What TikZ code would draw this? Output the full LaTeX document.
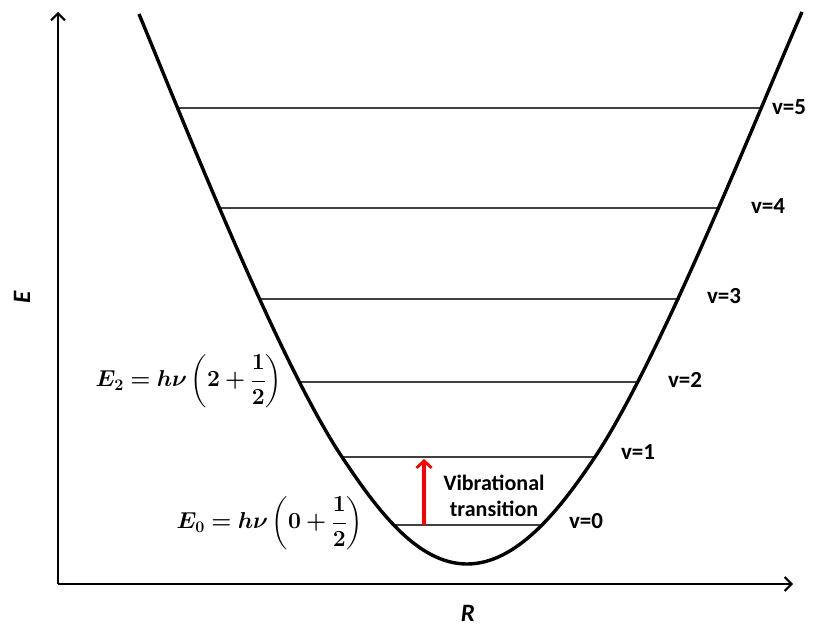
\RequirePackage{fix-cm}
\documentclass[tikz,border=0pt]{standalone}
\usepackage{amsmath}
\usepackage{bm}
\usepackage{fontspec}
\setmainfont{Carlito}
\usetikzlibrary{arrows.meta}
\begin{document}
\begin{tikzpicture}[x=1pt,y=-1pt,
  axis/.style={line width=2.2pt, -{Straight Barb[length=7pt,width=14pt,line width=2pt]}},
  well/.style={line width=3.4pt, line join=round},
  lvl/.style={draw=black!75, line width=1.4pt},
  lab/.style={font=\fontsize{23}{27}\selectfont\bfseries, inner sep=0pt},
  eqn/.style={font=\fontsize{21.5}{26}\selectfont, inner sep=0pt},
  axlab/.style={font=\fontsize{25}{29}\selectfont\bfseries\itshape, inner sep=0pt}]
\useasboundingbox (0,0) rectangle (820,626);
% axes
\coordinate (O) at (58,584);
\coordinate (Ytop) at (58,12);
\coordinate (Xend) at (793,584);
\draw[axis] (O) -- (Ytop);
\draw[axis] (O) -- (Xend);
\node[axlab, rotate=90] (Elab) at (22,297) {E};
\node[axlab] (Rlab) at (468,613) {R};
% levels
\coordinate (l5a) at (178,108); \coordinate (l5b) at (760,108);
\coordinate (l4a) at (218,208); \coordinate (l4b) at (720,208);
\coordinate (l3a) at (258,299); \coordinate (l3b) at (680,299);
\coordinate (l2a) at (299,382); \coordinate (l2b) at (637,382);
\coordinate (l1a) at (342,457); \coordinate (l1b) at (595,457);
\coordinate (l0a) at (392,525); \coordinate (l0b) at (542,525);
\foreach \i in {0,...,5}{\draw[lvl] (l\i a) -- (l\i b);}
% well
\coordinate (wl) at (139,14);
\coordinate (wb) at (467,564);
\coordinate (wr) at (802,12);
\draw[well] (wl) .. controls (178,108) and (277,359.5) .. (l1a)
  .. controls (377,509.5) and (417,564) .. (wb)
  .. controls (517,564) and (560,509.5) .. (l1b)
  .. controls (660,359.5) and (760,108) .. (wr);
% level labels
\node[lab] (v5) at (789,107) {v=5};
\node[lab] (v4) at (768,206) {v=4};
\node[lab] (v3) at (724,296) {v=3};
\node[lab] (v2) at (685,380) {v=2};
\node[lab] (v1) at (638,452) {v=1};
\node[lab] (v0) at (586,521) {v=0};
% transition
\coordinate (ab) at (424,525);
\coordinate (at) at (424,459);
\draw[red, line width=3.2pt, -{Straight Barb[length=7pt,width=15pt,line width=2.8pt]}] (ab) -- (at);
\node[lab, align=center, font=\fontsize{22}{26}\selectfont\bfseries] (vt) at (494,496) {Vibrational\\transition};
% equations
\node[eqn] (e2) at (189,381) {\scalebox{1.07}{$\displaystyle\bm{E_2 = h\nu\left(2+\frac{1}{2}\right)}$}};
\node[eqn] (e0) at (270,523) {\scalebox{1.07}{$\displaystyle\bm{E_0 = h\nu\left(0+\frac{1}{2}\right)}$}};
\end{tikzpicture}
\end{document}
